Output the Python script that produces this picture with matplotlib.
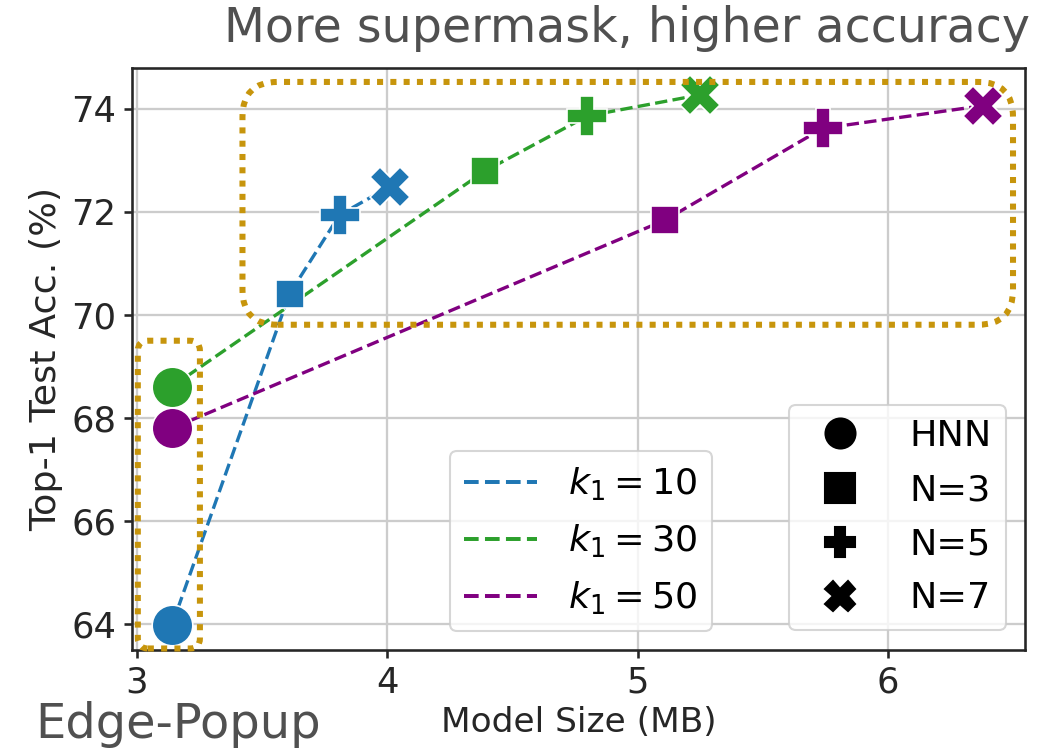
import matplotlib
matplotlib.use("Agg")
import matplotlib.pyplot as plt
from matplotlib.lines import Line2D
from matplotlib.patches import FancyBboxPatch

# model size (MB) and top-1 accuracy (%) per k1 setting; order: HNN, N=3, N=5, N=7
size_k10 = [3.14, 3.61, 3.81, 4.01]
acc_k10 = [63.98, 70.41, 71.94, 72.49]
size_k30 = [3.14, 4.39, 4.80, 5.25]
acc_k30 = [68.61, 72.79, 73.86, 74.27]
size_k50 = [3.14, 5.11, 5.74, 6.38]
acc_k50 = [67.80, 71.84, 73.62, 74.06]

series_labels = [r"$k_1=10$", r"$k_1=30$", r"$k_1=50$"]
series_colors = ["#1f77b4", "#2ca02c", "purple"]
point_labels = ["HNN", "N=3", "N=5", "N=7"]
point_markers = ["o", "s", "P", "X"]
point_msizes = [19.5, 13.5, 19.5, 19.5]

box_color = "#c7950c"
text_gray = "#262626"

plt.rcParams.update({
    "font.family": "DejaVu Sans",
    "axes.edgecolor": text_gray,
    "axes.linewidth": 1.25,
    "xtick.color": text_gray,
    "ytick.color": text_gray,
    "axes.labelcolor": text_gray,
})

fig = plt.figure(figsize=(6.92, 5.0), dpi=150)
ax = fig.add_axes([0.127, 0.1333, 0.8605, 0.776])

sizes = [size_k10, size_k30, size_k50]
accs = [acc_k10, acc_k30, acc_k50]
for xs, ys, col in zip(sizes, accs, series_colors):
    ax.plot(xs, ys, linestyle="--", color=col, lw=1.6, zorder=3)
    for x, y, m, ms in zip(xs, ys, point_markers, point_msizes):
        ax.plot(x, y, marker=m, markersize=ms, color=col,
                markeredgecolor="white", markeredgewidth=0.8,
                linestyle="None", zorder=4)

ax.set_xlim(2.98, 6.548)
ax.set_ylim(63.5, 74.79)
ax.set_xticks([3, 4, 5, 6])
ax.set_yticks([64, 66, 68, 70, 72, 74])
ax.tick_params(labelsize=17, length=4, width=1.25, direction="out")
ax.grid(True, color="#cccccc", lw=1.1)
ax.set_axisbelow(True)
ax.set_xlabel("Model Size (MB)", fontsize=16.5, labelpad=3)
ax.set_ylabel("Top-1 Test Acc. (%)", fontsize=17.5, labelpad=4)

# rounded dotted boxes, corner radius in pixels converted with the axes scale
fig.canvas.draw()
p0 = ax.transData.transform((3, 64))
p1 = ax.transData.transform((4, 66))
px_x = p1[0] - p0[0]
px_y = (p1[1] - p0[1]) / 2
aspect = px_x / px_y


def dotted_box(x0, y0, x1, y1, radius_px):
    patch = FancyBboxPatch(
        (x0, y0), x1 - x0, y1 - y0,
        boxstyle=f"round,pad=0,rounding_size={radius_px / px_x}",
        mutation_aspect=aspect,
        fill=False, edgecolor=box_color, lw=2.9,
        linestyle=(0, (1, 1.2)), zorder=5, clip_on=False)
    ax.add_patch(patch)


dotted_box(3.422, 69.81, 6.50, 74.52, 35)
dotted_box(3.004, 63.53, 3.252, 69.50, 10)

line_handles = [Line2D([], [], color=c, linestyle="--", lw=1.9) for c in series_colors]
leg1 = ax.legend(line_handles, series_labels, loc="lower right",
                 bbox_to_anchor=(712 / 1038, 1 - 631 / 750),
                 bbox_transform=fig.transFigure, borderaxespad=0,
                 fontsize=17.5, handletextpad=0.85, labelspacing=0.55,
                 edgecolor="#cccccc", framealpha=0.8)
ax.add_artist(leg1)

marker_handles = [Line2D([], [], marker=m, color="black", linestyle="None",
                         markersize=14.4) for m in point_markers]
ax.legend(marker_handles, point_labels, loc="lower right",
          bbox_to_anchor=(1006 / 1038, 1 - 630 / 750),
          bbox_transform=fig.transFigure, borderaxespad=0,
          fontsize=17.5, handletextpad=0.9, labelspacing=0.55,
          edgecolor="#cccccc", framealpha=0.8)

fig.text(1030 / 1038, 1 - 42 / 750, "More supermask, higher accuracy",
         ha="right", va="baseline", fontsize=22.8, color="#505050")
fig.text(35 / 1038, 1 - 738 / 750, "Edge-Popup", ha="left", va="baseline",
         fontsize=23, color="#505050")

fig.savefig("out.png", dpi=150)
